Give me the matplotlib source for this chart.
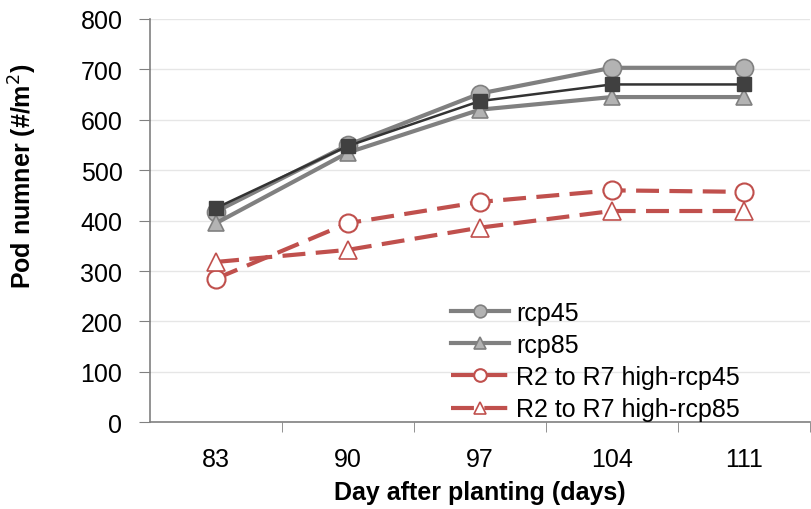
"""Pod number vs day after planting, rcp45/rcp85 with R2-R7 high-temperature runs."""

import matplotlib
matplotlib.use("Agg")
import matplotlib.pyplot as plt

plt.rcParams["font.family"] = ["Liberation Sans", "DejaVu Sans"]

days = ["83", "90", "97", "104", "111"]
baseline = [425, 548, 637, 670, 670]
rcp45 = [418, 550, 652, 703, 703]
rcp85 = [395, 535, 620, 645, 645]
high_rcp45 = [285, 395, 437, 460, 457]
high_rcp85 = [318, 342, 386, 419, 419]

GREY = "#808080"
GREY_FACE = "#b3b3b3"
RED = "#c0504d"
DASH = (0, (5.5, 2.5))

fig = plt.figure(figsize=(8.12, 5.10), dpi=100)
ax = fig.add_axes([0.185, 0.17, 0.812, 0.791])
x = list(range(len(days)))

ax.plot(x, rcp45, color=GREY, lw=3, marker="o", ms=13, mfc=GREY_FACE,
        mec=GREY, mew=1.2, label="rcp45", zorder=3)
ax.plot(x, rcp85, color=GREY, lw=3, marker="^", ms=12, mfc=GREY_FACE,
        mec=GREY, mew=1.2, label="rcp85", zorder=3)
ax.plot(x, baseline, color="#333333", lw=1.8, marker="s", ms=10,
        mfc="#404040", mec="#404040", zorder=4)
ax.plot(x, high_rcp45, color=RED, lw=3, ls=DASH, marker="o", ms=13,
        mfc="white", mec=RED, mew=1.5, label="R2 to R7 high-rcp45", zorder=3)
ax.plot(x, high_rcp85, color=RED, lw=3, ls=DASH, marker="^", ms=13,
        mfc="white", mec=RED, mew=1.2, label="R2 to R7 high-rcp85", zorder=3)

ax.set_xlim(-0.5, len(days) - 0.5)
ax.set_ylim(0, 800)
ax.set_yticks(range(0, 801, 100))
ax.set_xticks(x)
ax.set_xticklabels(days)
ax.set_xticks([i + 0.5 for i in x], minor=True)
ax.tick_params(axis="x", which="major", length=0, pad=18, labelsize=18)
ax.tick_params(axis="x", which="minor", length=7, color=GREY, direction="out")
ax.tick_params(axis="y", length=8, color=GREY, direction="out", labelsize=18,
               pad=12)
ax.grid(axis="y", color="#e6e6e6", lw=1)
ax.set_axisbelow(True)
for side in ("top", "right"):
    ax.spines[side].set_visible(False)
for side in ("left", "bottom"):
    ax.spines[side].set_color(GREY)
    ax.spines[side].set_linewidth(1.2)

ax.set_xlabel("Day after planting (days)", fontsize=18, fontweight="bold",
              labelpad=6)
ax.set_ylabel("Pod numner (#/m$^2$)", fontsize=18, fontweight="bold")
ax.yaxis.set_label_coords(-0.168, 0.613)

ax.legend(loc="lower left", bbox_to_anchor=(0.556, 0.172),
          bbox_transform=fig.transFigure, frameon=False, fontsize=18,
          handlelength=2.3, handletextpad=0.3, labelspacing=0.33,
          borderaxespad=0, borderpad=0, markerscale=0.7)

fig.savefig("out.png", dpi=100)
